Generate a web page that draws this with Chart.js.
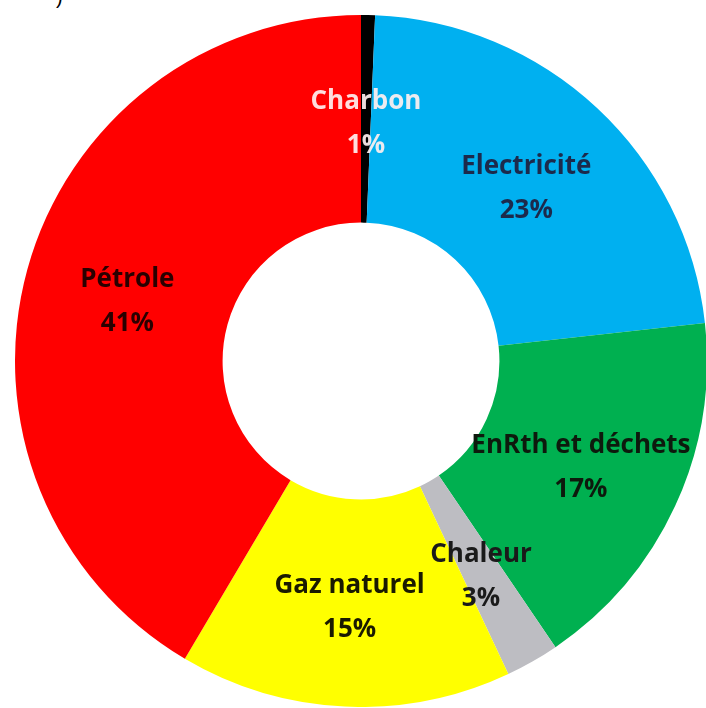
<!DOCTYPE html>
<html>
<head>
<meta charset="utf-8">
<script src="https://cdn.jsdelivr.net/npm/chart.js@4"></script>
<style>
  html, body { margin: 0; padding: 0; background: #fff; overflow: hidden; }
  body { width: 706px; height: 708px; position: relative; }
  .chart-wrap { position: absolute; left: 15px; top: 15px; width: 692px; height: 692px; }
  .cut { position: absolute; left: 56px; top: -14px; font: 20px "Liberation Sans", sans-serif; color: #000; }
</style>
</head>
<body>
<div class="cut">)</div>
<div class="chart-wrap"><canvas id="chart"></canvas></div>
<script>
// energy mix, clockwise from the top
const labels = ['Charbon', 'Electricité', 'EnRth et déchets', 'Chaleur', 'Gaz naturel', 'Pétrole'];
// slice sizes as measured on the picture
const shares = [0.65, 22.6, 17.25, 2.5, 15.5, 41.5];
// percentages printed on the picture
const printed = ['1%', '23%', '17%', '3%', '15%', '41%'];
const colors = ['#000000', '#00b0f0', '#00b050', '#bdbdc2', '#ffff00', '#ff0000'];
const textColors = ['rgba(255,240,240,0.92)', '#1c2a4c', '#0d1a0d', '#1a1a1a', '#1a1a00', '#2a0000'];

// draws "name / xx%" in the middle of each ring slice
const sliceLabels = {
  id: 'sliceLabels',
  afterDatasetsDraw(chart) {
    const ctx = chart.ctx;
    const meta = chart.getDatasetMeta(0);
    ctx.save();
    ctx.font = 'bold 26px "Open Sans", Lato, sans-serif';
    ctx.textAlign = 'center';
    ctx.textBaseline = 'middle';
    meta.data.forEach((arc, i) => {
      const p = arc.tooltipPosition();
      ctx.fillStyle = textColors[i];
      ctx.fillText(labels[i], p.x, p.y - 17);
      ctx.fillText(printed[i], p.x, p.y + 27);
    });
    ctx.restore();
  }
};

new Chart(document.getElementById('chart'), {
  type: 'doughnut',
  data: {
    labels,
    datasets: [{
      data: shares,
      backgroundColor: colors,
      borderWidth: 0
    }]
  },
  options: {
    responsive: true,
    maintainAspectRatio: false,
    animation: false,
    cutout: '40%',
    layout: {padding: 0},
    plugins: {
      legend: {display: false},
      tooltip: {enabled: false}
    }
  },
  plugins: [sliceLabels]
});
</script>
</body>
</html>
